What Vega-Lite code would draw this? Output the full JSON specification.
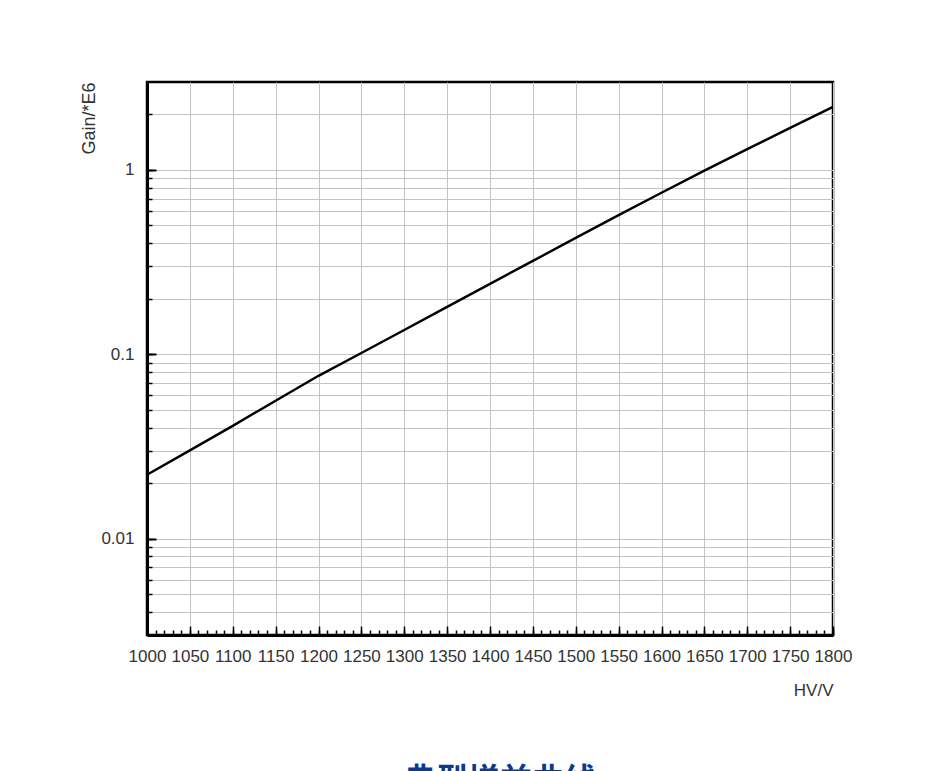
{
  "$schema": "https://vega.github.io/schema/vega-lite/v6.json",
  "autosize": "none",
  "width": 686,
  "height": 553,
  "padding": {"left": 147, "top": 82, "right": 94, "bottom": 136},
  "background": "white",
  "config": {
    "view": {"stroke": "black", "strokeWidth": 2.5},
    "font": "Liberation Sans"
  },
  "title": {
    "text": "典型增益曲线",
    "orient": "bottom",
    "anchor": "middle",
    "dx": 10,
    "offset": 68,
    "fontSize": 32,
    "fontWeight": "bold",
    "font": "Noto Sans CJK SC",
    "color": "#0b3a8d"
  },
  "data": {
    "values": [
      {"hv": 1000, "gain": 0.0222},
      {"hv": 1050, "gain": 0.0301},
      {"hv": 1100, "gain": 0.0409},
      {"hv": 1150, "gain": 0.0560},
      {"hv": 1200, "gain": 0.0764},
      {"hv": 1250, "gain": 0.1016},
      {"hv": 1300, "gain": 0.1355},
      {"hv": 1350, "gain": 0.1807},
      {"hv": 1400, "gain": 0.241},
      {"hv": 1450, "gain": 0.321},
      {"hv": 1500, "gain": 0.428},
      {"hv": 1550, "gain": 0.569},
      {"hv": 1600, "gain": 0.752},
      {"hv": 1650, "gain": 0.991},
      {"hv": 1700, "gain": 1.297},
      {"hv": 1750, "gain": 1.69},
      {"hv": 1800, "gain": 2.20}
    ]
  },
  "layer": [
    {
      "mark": {"type": "line", "opacity": 0},
      "encoding": {
        "x": {
          "field": "hv", "type": "quantitative",
          "scale": {"domain": [1000, 1800], "nice": false, "zero": false},
          "axis": {
            "orient": "bottom",
            "values": [1000,1010,1020,1030,1040,1050,1060,1070,1080,1090,1100,1110,1120,1130,1140,1150,1160,1170,1180,1190,1200,1210,1220,1230,1240,1250,1260,1270,1280,1290,1300,1310,1320,1330,1340,1350,1360,1370,1380,1390,1400,1410,1420,1430,1440,1450,1460,1470,1480,1490,1500,1510,1520,1530,1540,1550,1560,1570,1580,1590,1600,1610,1620,1630,1640,1650,1660,1670,1680,1690,1700,1710,1720,1730,1740,1750,1760,1770,1780,1790,1800],
            "labels": false, "title": null, "grid": false, "domain": false,
            "tickSize": -5, "tickColor": "black", "tickWidth": 1.5
          }
        },
        "y": {
          "field": "gain", "type": "quantitative",
          "scale": {"type": "log", "domain": [0.003, 3], "nice": false},
          "axis": {
            "orient": "left",
            "values": [0.004,0.005,0.006,0.007,0.008,0.009,0.01,0.02,0.03,0.04,0.05,0.06,0.07,0.08,0.09,0.1,0.2,0.3,0.4,0.5,0.6,0.7,0.8,0.9,1,2],
            "labels": false, "title": null, "grid": true, "domain": false,
            "gridColor": "#c4c4c4", "gridWidth": 1,
            "tickSize": -5, "tickColor": "black", "tickWidth": 1.5
          }
        }
      }
    },
    {
      "mark": {"type": "line", "color": "black", "strokeWidth": 2.4},
      "encoding": {
        "x": {
          "field": "hv", "type": "quantitative",
          "axis": {
            "orient": "bottom",
            "values": [1000,1050,1100,1150,1200,1250,1300,1350,1400,1450,1500,1550,1600,1650,1700,1750,1800],
            "format": "d",
            "labelOverlap": false, "labelFlush": false, "labelBound": false,
            "grid": true, "gridColor": "#c4c4c4", "gridWidth": 1,
            "domain": true, "domainColor": "black", "domainWidth": 3,
            "tickSize": -9, "tickColor": "black", "tickWidth": 1.5,
            "labelFontSize": 17, "labelColor": "#333333", "labelPadding": 22,
            "labelFont": "Liberation Sans",
            "title": "HV/V", "titleAnchor": "end", "titleFontSize": 17,
            "titleFontWeight": "normal", "titleColor": "#333333", "titlePadding": 18,
            "titleFont": "Liberation Sans"
          }
        },
        "y": {
          "field": "gain", "type": "quantitative",
          "axis": {
            "orient": "left",
            "values": [0.01, 0.1, 1],
            "labelExpr": "datum.value >= 1 ? '1' : format(datum.value, '~g')",
            "grid": false,
            "domain": true, "domainColor": "black", "domainWidth": 3,
            "tickSize": -9, "tickColor": "black", "tickWidth": 2,
            "labelFontSize": 17, "labelColor": "#333333", "labelPadding": 22,
            "labelFont": "Liberation Sans",
            "title": "Gain/*E6", "titleAnchor": "end", "titleFontSize": 18,
            "titleFontWeight": "normal", "titleColor": "#333333", "titlePadding": 2,
            "titleFont": "Liberation Sans"
          }
        }
      }
    }
  ],
  "resolve": {"axis": {"x": "independent", "y": "independent"}}
}
